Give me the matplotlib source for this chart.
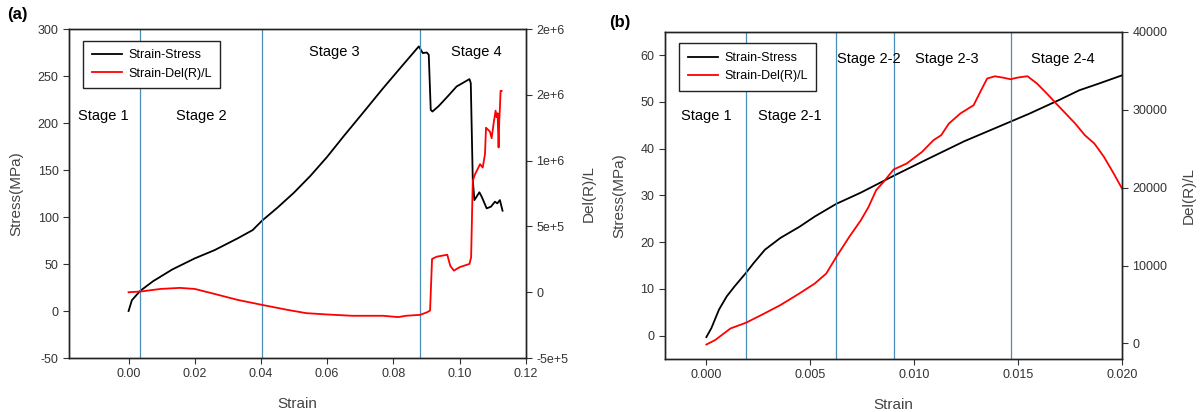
import matplotlib
matplotlib.use("Agg")
import matplotlib.pyplot as plt

plt.rcParams["font.family"] = ["Liberation Sans", "DejaVu Sans"]
plt.rcParams["axes.unicode_minus"] = False

# ---- panel (a) data ----
a_stress_x = [0.0, 0.001, 0.0035, 0.0074, 0.0132, 0.020, 0.026, 0.0329, 0.0375, 0.0403,
              0.045, 0.050, 0.055, 0.060, 0.065, 0.0711, 0.0769, 0.0827, 0.0877,
              0.0889, 0.0901, 0.0907, 0.0913, 0.0918, 0.0937, 0.0966, 0.0991, 0.1030,
              0.1034, 0.1040, 0.1045, 0.1060, 0.1067, 0.1082, 0.1095, 0.1107, 0.1114,
              0.1122, 0.1130]
a_stress_y = [0, 11.5, 21.4, 31.7, 44.2, 56, 64.8, 77.2, 86.1, 96,
              110, 126, 144, 164, 186, 212, 237, 261, 281.5,
              274.4, 275, 272.6, 214, 212.2, 218, 229, 238.8, 246.7,
              242.4, 139.4, 118, 126.3, 121.6, 109.2, 111, 116.3, 114.5,
              118, 106.7]

a_del_x = [0.0, 0.0035, 0.0097, 0.0155, 0.020, 0.026, 0.0329, 0.0403, 0.048, 0.0537,
           0.0599, 0.0676, 0.0769, 0.0815, 0.0838, 0.0881, 0.0902, 0.0911, 0.0917,
           0.0931, 0.0963, 0.0972, 0.0983, 0.1000, 0.1030, 0.1035, 0.1040, 0.1047,
           0.1057, 0.1062, 0.1070, 0.1077, 0.1080, 0.1092, 0.1097, 0.1104, 0.1109,
           0.1112, 0.1115, 0.1118, 0.1120, 0.1122, 0.1124, 0.1127]
a_del_y = [0, 5e3, 2.5e4, 3.3e4, 2.5e4, -1.3e4, -5.8e4, -9.6e4, -1.34e5, -1.59e5,
           -1.69e5, -1.79e5, -1.79e5, -1.89e5, -1.79e5, -1.72e5, -1.52e5, -1.39e5, 2.53e5,
           2.7e5, 2.85e5, 2.0e5, 1.64e5, 1.9e5, 2.15e5, 2.65e5, 8.46e5, 8.97e5,
           9.47e5, 9.73e5, 9.47e5, 1.05e6, 1.25e6, 1.22e6, 1.17e6, 1.3e6, 1.38e6,
           1.33e6, 1.36e6, 1.10e6, 1.3e6, 1.4e6, 1.53e6, 1.53e6]

a_stage_x = [0.0035, 0.0403, 0.0881]
a_stage_labels = ["Stage 1", "Stage 2", "Stage 3", "Stage 4"]
a_label_pos = [(-0.0076, 207), (0.0221, 207), (0.0621, 276), (0.105, 276)]
a_right_ticks = [-5e5, 0, 5e5, 1e6, 1.5e6, 2e6]
a_right_labels = ["-5e+5", "0", "5e+5", "1e+6", "2e+6", "2e+6"]

# ---- panel (b) data ----
b_stress_x = [0.0, 0.00024, 0.00061, 0.00098, 0.00135, 0.0019, 0.00227, 0.00282, 0.00356,
              0.00448, 0.00522, 0.00625, 0.00743, 0.00901, 0.01001, 0.01056, 0.01241,
              0.01464, 0.01554, 0.01701, 0.01794, 0.01886, 0.020]
b_stress_y = [-0.3, 1.6, 5.6, 8.4, 10.5, 13.4, 15.5, 18.4, 20.9,
              23.3, 25.5, 28.2, 30.6, 34.2, 36.4, 37.6, 41.6,
              45.8, 47.5, 50.5, 52.5, 53.9, 55.7]

b_del_x = [0.0, 0.00042, 0.00116, 0.0019, 0.00264, 0.00356, 0.00448, 0.00522, 0.00577,
           0.00625, 0.00688, 0.00743, 0.0078, 0.00817, 0.00853, 0.00901, 0.00964,
           0.01038, 0.01093, 0.0113, 0.01167, 0.01222, 0.01286, 0.01314, 0.01351,
           0.01388, 0.01425, 0.01464, 0.01499, 0.01545, 0.01591, 0.01646, 0.01683,
           0.01729, 0.01775, 0.01821, 0.01867, 0.01913, 0.0196, 0.020]
b_del_y = [-140, 430, 1925, 2650, 3640, 4920, 6420, 7700, 8980,
           11100, 13700, 15800, 17500, 19680, 20750, 22330, 23100,
           24600, 26100, 26740, 28230, 29520, 30590, 32080, 34010,
           34300, 34140, 33920, 34140, 34310, 33370, 31870, 30800,
           29520, 28230, 26740, 25670, 23960, 21820, 19890]

b_stage_x = [0.0019, 0.00625, 0.00901, 0.01464]
b_stage_labels = ["Stage 1", "Stage 2-1", "Stage 2-2", "Stage 2-3", "Stage 2-4"]
b_label_pos = [(0.0, 47), (0.00402, 47), (0.0078, 59.3), (0.01158, 59.3), (0.01714, 59.3)]

VLINE = "#4a8db7"

fig = plt.figure(figsize=(12, 4.12), dpi=100)
ax_a = fig.add_axes([0.0575, 0.131, 0.3806, 0.7986])
ax_b = fig.add_axes([0.554, 0.1286, 0.381, 0.794])


def style(ax):
    ax.tick_params(direction="out", length=4, width=0.8, labelsize=9, colors="#333333")
    for sp in ax.spines.values():
        sp.set_linewidth(1.0)
        sp.set_color("#222222")


def add_legend(ax, handles):
    leg = ax.legend(handles=handles, loc="upper left", bbox_to_anchor=(0.031, 0.965),
                    borderaxespad=0, fontsize=9, fancybox=False, framealpha=1,
                    edgecolor="#222222", handlelength=2.4, handletextpad=0.5,
                    borderpad=0.7)
    leg.get_frame().set_linewidth(1.0)


# ---- (a) ----
ax_a2 = ax_a.twinx()
l1, = ax_a.plot(a_stress_x, a_stress_y, color="black", lw=1.3, label="Strain-Stress")
l2, = ax_a2.plot(a_del_x, a_del_y, color="red", lw=1.3, label="Strain-Del(R)/L")
for x in a_stage_x:
    ax_a.axvline(x, color=VLINE, lw=0.9)
for lab, (x, y) in zip(a_stage_labels, a_label_pos):
    ax_a.text(x, y, lab, ha="center", va="center", fontsize=10.5, color="black")
ax_a.set_xlim(-0.018, 0.12)
ax_a.set_ylim(-50, 300)
ax_a.set_xticks([0.0, 0.02, 0.04, 0.06, 0.08, 0.10, 0.12])
ax_a.set_xticklabels(["0.00", "0.02", "0.04", "0.06", "0.08", "0.10", "0.12"])
ax_a.set_yticks([-50, 0, 50, 100, 150, 200, 250, 300])
ax_a2.set_ylim(-5e5, 2e6)
ax_a2.set_yticks(a_right_ticks)
ax_a2.set_yticklabels(a_right_labels)
ax_a.set_xlabel("Strain", fontsize=11, color="#444444", labelpad=12)
ax_a.set_ylabel("Stress(MPa)", fontsize=11, color="#444444", labelpad=10)
ax_a2.set_ylabel("Del(R)/L", fontsize=11, color="#444444", labelpad=10)
style(ax_a)
style(ax_a2)
add_legend(ax_a, [l1, l2])
fig.text(0.006, 0.955, "(a)", fontsize=12, fontweight="bold")

# ---- (b) ----
ax_b2 = ax_b.twinx()
m1, = ax_b.plot(b_stress_x, b_stress_y, color="black", lw=1.3, label="Strain-Stress")
m2, = ax_b2.plot(b_del_x, b_del_y, color="red", lw=1.3, label="Strain-Del(R)/L")
for x in b_stage_x:
    ax_b.axvline(x, color=VLINE, lw=0.9)
for lab, (x, y) in zip(b_stage_labels, b_label_pos):
    ax_b.text(x, y, lab, ha="center", va="center", fontsize=10.5, color="black")
ax_b.set_xlim(-0.002, 0.020)
ax_b.set_ylim(-5, 65)
ax_b.set_xticks([0.0, 0.005, 0.010, 0.015, 0.020])
ax_b.set_xticklabels(["0.000", "0.005", "0.010", "0.015", "0.020"])
ax_b.set_yticks([0, 10, 20, 30, 40, 50, 60])
ax_b2.set_ylim(-2000, 40000)
ax_b2.set_yticks([0, 10000, 20000, 30000, 40000])
ax_b2.set_yticklabels(["0", "10000", "20000", "30000", "40000"])
ax_b.set_xlabel("Strain", fontsize=11, color="#444444", labelpad=12)
ax_b.set_ylabel("Stress(MPa)", fontsize=11, color="#444444", labelpad=10)
ax_b2.set_ylabel("Del(R)/L", fontsize=11, color="#444444", labelpad=10)
style(ax_b)
style(ax_b2)
add_legend(ax_b, [m1, m2])
fig.text(0.508, 0.935, "(b)", fontsize=12, fontweight="bold")

fig.savefig("out.png", dpi=100)
